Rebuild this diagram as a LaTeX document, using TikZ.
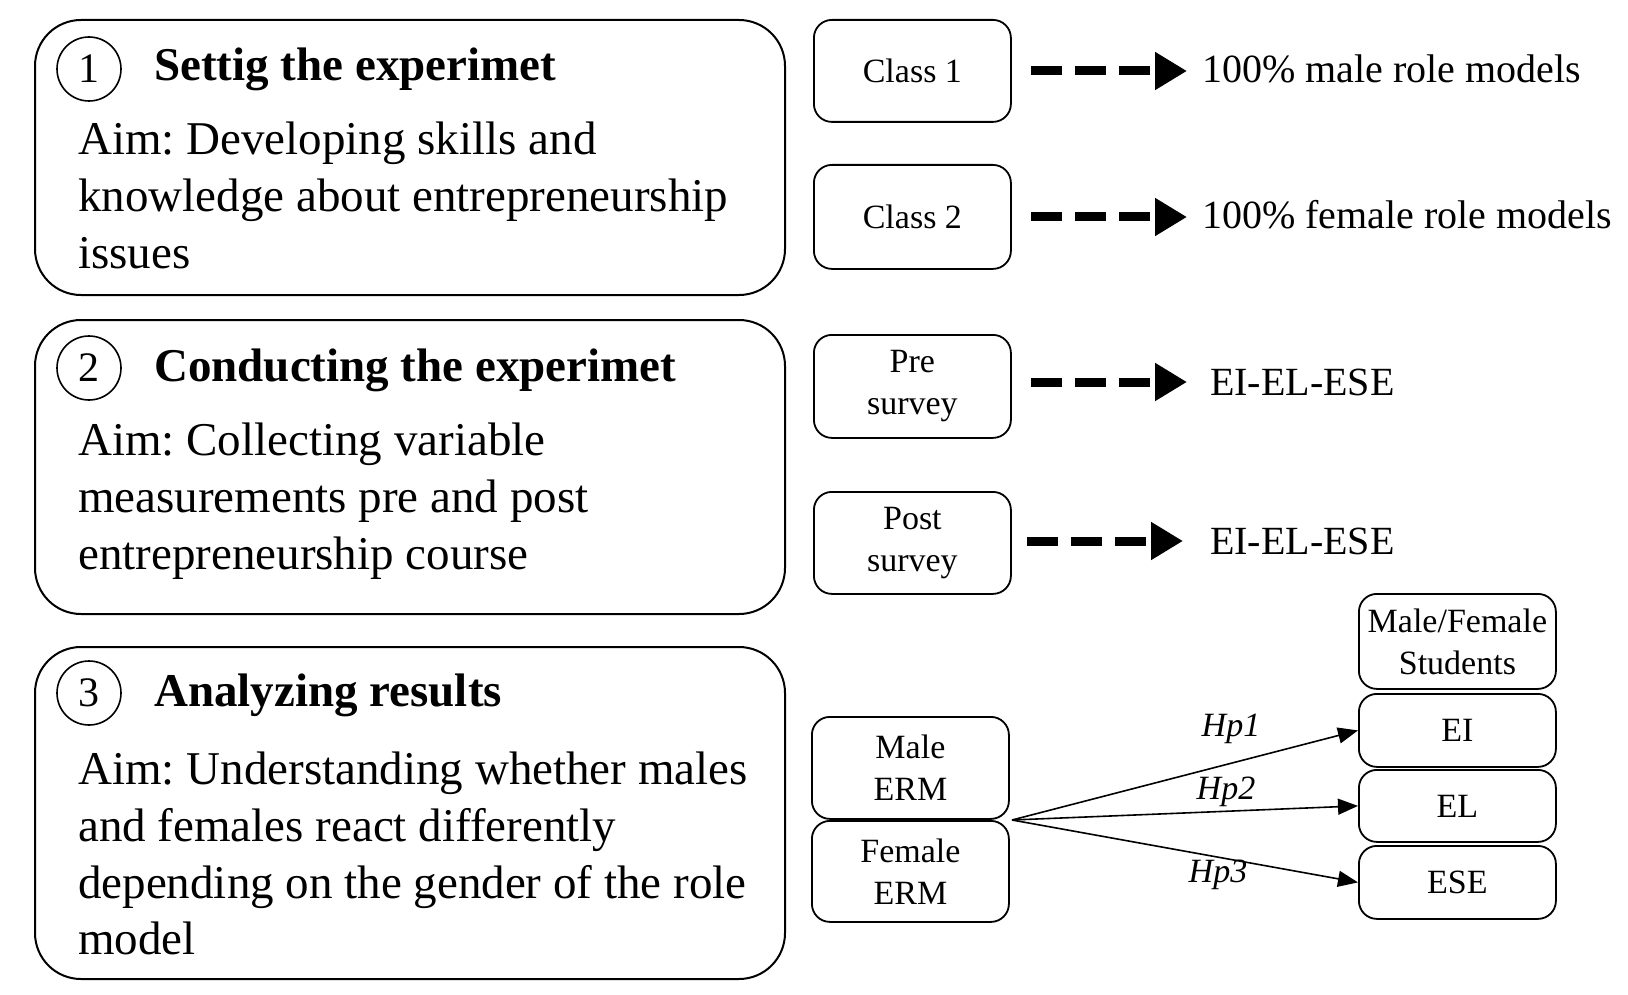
\documentclass[tikz,border=0pt]{standalone}
\usepackage{fontspec}
\setmainfont{Liberation Serif}
\usetikzlibrary{arrows.meta}
\begin{document}
\frenchspacing
\begin{tikzpicture}[x=1pt,y=-1pt,
  bigbox/.style={draw, line width=2pt, rounded corners=46pt, minimum width=750pt, anchor=north west, inner sep=0pt},
  numcirc/.style={draw, circle, line width=1.6pt, minimum size=64pt, inner sep=0pt, font=\fontsize{42}{42}\selectfont},
  title/.style={anchor=base west, inner sep=0pt, font=\fontsize{47}{56.6}\selectfont\bfseries},
  aim/.style={anchor=north west, inner sep=0pt, align=left, font=\fontsize{47}{56.6}\selectfont},
  smallbox/.style={draw, line width=1.8pt, rounded corners=18pt, minimum width=197pt, anchor=north west, align=center, inner sep=0pt, font=\fontsize{34}{42}\selectfont},
  result/.style={anchor=base west, inner sep=0pt, font=\fontsize{40}{40}\selectfont},
  dasharrow/.style={line width=9pt, dash pattern=on 31pt off 13pt, -{Triangle[length=32pt,width=36pt]}},
  hparrow/.style={line width=1.6pt, -{Triangle[length=20pt,width=16pt]}},
  hplabel/.style={inner sep=0pt, font=\fontsize{34}{34}\selectfont\itshape}
]
\useasboundingbox (0,0) rectangle (1628,995);

% stage boxes
\node[bigbox, minimum height=275pt] (b1) at (34,19) {};
\node[bigbox, minimum height=294pt] (b2) at (34,319) {};
\node[bigbox, minimum height=332pt] (b3) at (34,646) {};

\node[numcirc] (c1) at (89,69) {1};
\node[numcirc] (c2) at (89,368) {2};
\node[numcirc] (c3) at (89,693) {3};

\node[title] (t1) at (154,81) {Settig the experimet};
\node[title] (t2) at (154,381) {Conducting the experimet};
\node[title] (t3) at (154,706) {Analyzing results};

\node[aim] (a1) at (78,122) {Aim: Developing skills and\\knowledge about entrepreneurship\\issues};
\node[aim] (a2) at (78,423) {Aim: Collecting variable\\measurements pre and post\\entrepreneurship course};
\node[aim] (a3) at (78,752) {Aim: Understanding whether males\\and females react differently\\depending on the gender of the role\\model};

% right column
\node[smallbox, minimum height=102pt] (cl1) at (813,19) {Class 1};
\node[smallbox, minimum height=104pt] (cl2) at (813,164) {Class 2};
\node[smallbox, minimum height=103pt] (pre) at (813,334) {Pre\\survey};
\node[smallbox, minimum height=102pt] (post) at (813,491) {Post\\survey};

\node[result] (r1) at (1202,83) {100\% male role models};
\node[result] (r2) at (1202,229) {100\% female role models};
\node[result] (r3) at (1210,395) {EI-EL-ESE};
\node[result] (r4) at (1210,554) {EI-EL-ESE};

\coordinate (d1) at (1031,71);
\coordinate (d2) at (1031,217);
\coordinate (d3) at (1031,382);
\coordinate (d4) at (1027,541);
\draw[dasharrow] (d1) -- ++(156,0);
\draw[dasharrow] (d2) -- ++(156,0);
\draw[dasharrow] (d3) -- ++(156,0);
\draw[dasharrow] (d4) -- ++(156,0);

% model
\node[smallbox, minimum height=102pt] (merm) at (811,716) {Male\\ERM};
\node[smallbox, minimum height=101pt] (ferm) at (811,820) {Female\\ERM};
\node[smallbox, minimum height=95pt] (stud) at (1358,593) {Male/Female\\Students};
\node[smallbox, minimum height=73pt] (ei) at (1358,693) {EI};
\node[smallbox, minimum height=72pt] (el) at (1358,769) {EL};
\node[smallbox, minimum height=73pt] (ese) at (1358,845) {ESE};

\coordinate (src) at (1012,820);
\draw[hparrow] (src) -- (ei.west);
\draw[hparrow] (src) -- (el.west);
\draw[hparrow] (src) -- (ese.west);

\node[hplabel] (h1) at (1231,729) {Hp1};
\node[hplabel] (h2) at (1226,792) {Hp2};
\node[hplabel] (h3) at (1218,875) {Hp3};
\end{tikzpicture}
\end{document}
